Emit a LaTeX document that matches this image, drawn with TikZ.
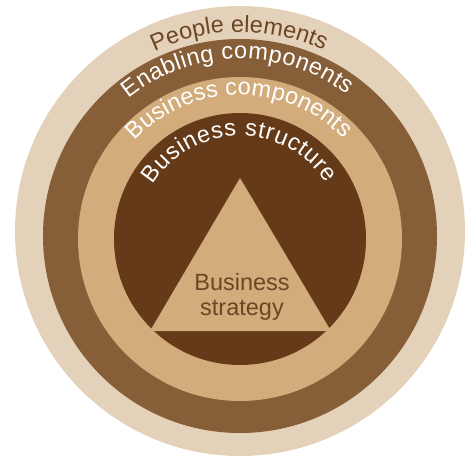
\documentclass[tikz,border=0pt]{standalone}
\usepackage{fontspec}
\setmainfont{Liberation Sans}
\usetikzlibrary{decorations.text}

\definecolor{peoplebrown}{HTML}{E3D1BA}
\definecolor{enablebrown}{HTML}{865E38}
\definecolor{compbrown}{HTML}{D2AC7B}
\definecolor{structbrown}{HTML}{643A19}
\definecolor{labelbrown}{HTML}{6E4523}

\newcommand{\ringfont}{\fontsize{23.5}{25}\selectfont}

\tikzset{
  ringlabel/.style={decorate, decoration={text along path, text align=fit to path}}
}

\begin{document}
\begin{tikzpicture}[x=1pt, y=1pt]
    \useasboundingbox (0,0) rectangle (474,456);

    % Nested rings, outermost first
    \fill[peoplebrown] (240,225) circle (225);
    \fill[enablebrown] (240,220) circle (197);
    \fill[compbrown]   (240,217) circle (162);
    \fill[structbrown] (240,217) circle (126);

    % Strategy triangle in the middle
    \fill[compbrown] (240,278) -- (331,125) -- (150,125) -- cycle;
    \node[font=\ringfont, text=labelbrown, align=center] (strategy) at (242,159)
        {Business\\strategy};

    % Ring labels bent along each ring
    \path[ringlabel, decoration={text={|\ringfont\color{labelbrown}|People elements}}]
        (240,225) ++(115.5:199) arc[start angle=115.5, end angle=66, radius=199];
    \path[ringlabel, decoration={text={|\ringfont\color{white}|Enabling components}}]
        (240,220) ++(129:177) arc[start angle=129, end angle=53, radius=177];
    \path[ringlabel, decoration={text={|\ringfont\color{white}|Business components}}]
        (240,217) ++(137:144) arc[start angle=137, end angle=44, radius=144];
    \path[ringlabel, decoration={text={|\ringfont\color{white}|Business structure}}]
        (240,217) ++(148:103) arc[start angle=148, end angle=33, radius=103];
\end{tikzpicture}
\end{document}
